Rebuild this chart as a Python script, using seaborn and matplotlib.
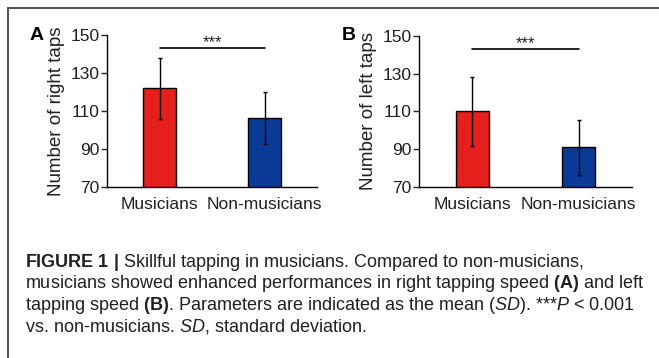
import seaborn as sns
import matplotlib.pyplot as plt
import pandas as pd
from matplotlib.lines import Line2D

groups = ['Musicians', 'Non-musicians']
right_mean = [122, 106.5]
right_sd = [16, 13.7]
left_mean = [110, 91]
left_sd = [18.3, 14.5]
bar_colors = ['#e41f1c', '#0b3a96']
yticks = [70, 90, 110, 130, 150]
sig_y = 143

caption = [
    r'$\mathbf{FIGURE\ 1\ |}$ Skillful tapping in musicians. Compared to non-musicians,',
    r'musicians showed enhanced performances in right tapping speed $\mathbf{(A)}$ and left',
    r'tapping speed $\mathbf{(B)}$. Parameters are indicated as the mean ($\mathit{SD}$). ***$\mathit{P}$ < 0.001',
    r'vs. non-musicians. $\mathit{SD}$, standard deviation.',
]

sns.set_theme(style='ticks')
plt.rcParams['font.family'] = ['Liberation Sans', 'DejaVu Sans']
plt.rcParams['mathtext.fontset'] = 'custom'
plt.rcParams['mathtext.rm'] = 'Liberation Sans'
plt.rcParams['mathtext.it'] = 'Liberation Sans:italic'
plt.rcParams['mathtext.bf'] = 'Liberation Sans:bold'

W, H = 659, 358
fig = plt.figure(figsize=(W / 100, H / 100), dpi=100)
txt = '#231f20'

panels = [
    ('A', 'Number of right taps', right_mean, right_sd, (107, 317, 35, 187), 30),
    ('B', 'Number of left taps', left_mean, left_sd, (419, 632, 36, 187), 342),
]

for letter, ylabel, means, sds, (l, r, t, b), lx in panels:
    ax = fig.add_axes([l / W, 1 - b / H, (r - l) / W, (b - t) / H])
    df = pd.DataFrame({'group': groups, 'taps': means})
    sns.barplot(data=df, x='group', y='taps', hue='group', palette=bar_colors,
                saturation=1, width=0.31, edgecolor='black', linewidth=1,
                legend=False, ax=ax)
    ax.errorbar([0, 1], means, yerr=sds, fmt='none', ecolor='black',
                elinewidth=1, capsize=1.5, capthick=1)
    ax.set_ylim(70, 150)
    ax.set_xlim(-0.5, 1.5)
    ax.set_yticks(yticks)
    ax.set_xlabel('')
    ax.set_ylabel(ylabel, fontsize=13.5, color=txt, labelpad=4)
    ax.tick_params(axis='x', length=0, pad=7, labelsize=12.5, labelcolor=txt)
    ax.tick_params(axis='y', length=4, width=1, pad=1.5, labelsize=12.5, labelcolor=txt)
    for s in ['left', 'bottom']:
        ax.spines[s].set_linewidth(1)
        ax.spines[s].set_color('black')
    sns.despine(ax=ax)
    ax.plot([0, 1], [sig_y, sig_y], color='black', lw=1.2, clip_on=False)
    ax.text(0.5, sig_y + 0.5, '***', ha='center', va='baseline', fontsize=12,
            color=txt, clip_on=False)
    fig.text(lx / W, 1 - 35.5 / H, letter, fontsize=14, fontweight='bold',
             ha='left', va='center', color='black')

# frame of the figure page
fig.add_artist(Line2D([8 / W, 1], [1 - 8 / H, 1 - 8 / H], transform=fig.transFigure,
                      color='#555555', lw=1.5))
fig.add_artist(Line2D([8 / W, 8 / W], [0, 1 - 8 / H], transform=fig.transFigure,
                      color='#555555', lw=1.5))

for i, line in enumerate(caption):
    fig.text(25 / W, 1 - (266.7 + 21.7 * i) / H, line, fontsize=13,
             ha='left', va='baseline', color=txt)

fig.savefig('out.png', dpi=100)
